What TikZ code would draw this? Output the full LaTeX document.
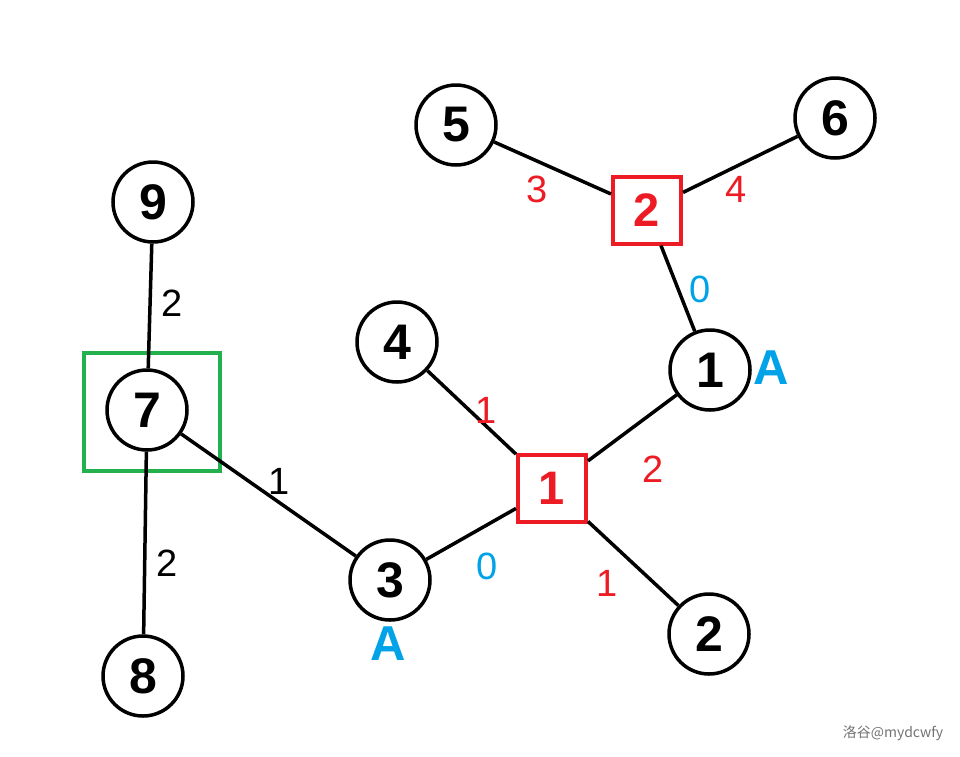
\documentclass[tikz,border=0pt]{standalone}
\usepackage{fontspec}
\setmainfont{Liberation Sans}
\newfontfamily\cjk{Noto Sans CJK SC}
\definecolor{pred}{HTML}{ED1C24}
\definecolor{pgreen}{HTML}{22B14C}
\definecolor{pblue}{HTML}{00A2E8}
\begin{document}
\begin{tikzpicture}[x=1pt,y=-1pt,
  vert/.style={circle,draw=black,line width=3.5pt,minimum size=80pt,inner sep=0pt,
    font=\fontsize{50}{50}\selectfont\bfseries},
  sqbox/.style={rectangle,draw=pred,line width=4pt,minimum width=68pt,minimum height=67pt,inner sep=0pt,
    text=pred,font=\fontsize{47}{47}\selectfont\bfseries},
  hlbox/.style={rectangle,draw=pgreen,line width=4pt,minimum width=136pt,minimum height=118pt,inner sep=0pt},
  edge/.style={line width=3.5pt,black},
  wlab/.style={inner sep=0pt,font=\fontsize{38}{38}\selectfont},
  alab/.style={inner sep=0pt,text=pblue,font=\fontsize{49}{49}\selectfont\bfseries}
]
\useasboundingbox (0,0) rectangle (960,756);
\fill[white] (0,0) rectangle (960,756);
% highlight box
\node[hlbox] (g7) at (152,412) {};
% vertices
\node[vert] (n5) at (456,125) {5};
\node[vert] (n6) at (835,118) {6};
\node[sqbox] (s2) at (647,210) {2};
\node[vert] (n9) at (153,202) {9};
\node[vert] (n7) at (147,410) {7};
\node[vert] (n4) at (397,342) {4};
\node[vert] (n1) at (710,370) {1};
\node[sqbox] (s1) at (552,488) {1};
\node[vert] (n3) at (390,580) {3};
\node[vert] (n2) at (709,634) {2};
\node[vert] (n8) at (143,676) {8};
% edges
\draw[edge] (n5) -- (s2);
\draw[edge] (n6) -- (s2);
\draw[edge] (s2) -- (n1);
\draw[edge] (n4) -- (s1);
\draw[edge] (s1.37) -- (n1);
\draw[edge] (s1) -- (n3);
\draw[edge] (s1) -- (n2);
\draw[edge] (n7) -- (n3);
\draw[edge] (n9) -- (n7);
\draw[edge] (n7) -- (n8);
% weights
\node[wlab,text=pred] (w52) at (537,189) {3};
\node[wlab,text=pred] (w62) at (736,189) {4};
\node[wlab,text=pblue] (w21) at (700,289) {0};
\node[wlab,text=pred] (w41) at (486,410) {1};
\node[wlab,text=pred] (w11) at (653,469) {2};
\node[wlab,text=pblue] (w13) at (487,566) {0};
\node[wlab,text=pred] (w12) at (607,583) {1};
\node[wlab] (w73) at (279,481) {1};
\node[wlab] (w97) at (172,303) {2};
\node[wlab] (w78) at (167,563) {2};
% A labels
\node[alab] (a1) at (771,368) {A};
\node[alab] (a3) at (388,644) {A};
% watermark
\node[inner sep=0pt,text=black!55,font=\cjk\fontsize{14}{14}\selectfont] (wm) at (893,733) {洛谷@mydcwfy};
\end{tikzpicture}
\end{document}
